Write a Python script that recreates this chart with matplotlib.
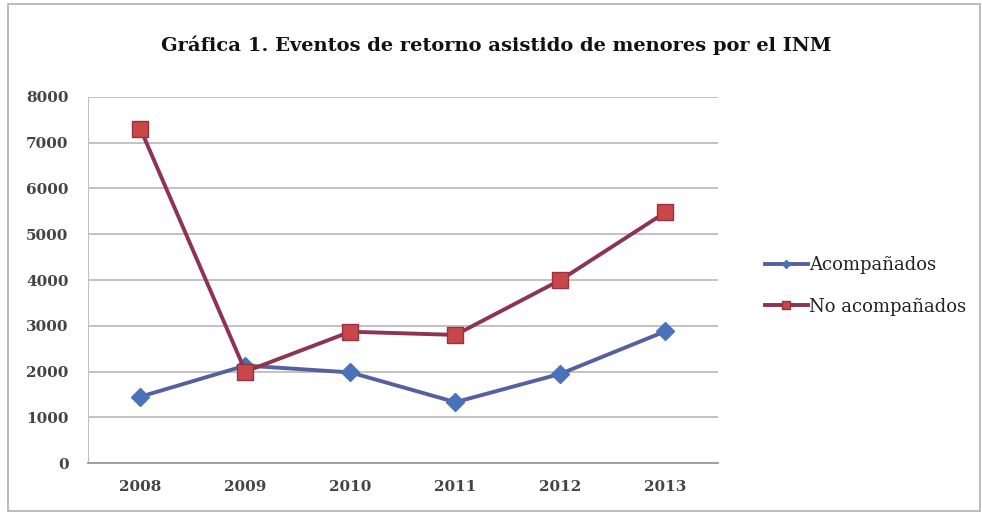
import matplotlib
matplotlib.use("Agg")
import matplotlib.pyplot as plt
from matplotlib.patches import Rectangle

years = ["2008", "2009", "2010", "2011", "2012", "2013"]
acompanados = [1450, 2130, 1980, 1330, 1950, 2880]
no_acompanados = [7300, 2000, 2870, 2800, 4000, 5480]
yticks = [0, 1000, 2000, 3000, 4000, 5000, 6000, 7000, 8000]

plt.rcParams['font.family'] = ['DejaVu Serif']

fig = plt.figure(figsize=(9.82, 5.17), dpi=100)
fig.patches.append(Rectangle((0.008, 0.012), 0.99, 0.98, transform=fig.transFigure,
                             fill=False, edgecolor="#b0b0b0", linewidth=1.2))
ax = fig.add_axes([0.0896, 0.1044, 0.6415, 0.708])

x = list(range(len(years)))
ax.plot(x, acompanados, color="#55609f", linewidth=2.8, marker="D", markersize=9,
        markerfacecolor="#4a72b8", markeredgecolor="#4a72b8", label="Acompañados", zorder=3)
ax.plot(x, no_acompanados, color="#8c3450", linewidth=2.8, marker="s", markersize=12,
        markerfacecolor="#c8484a", markeredgecolor="#9a3040", label="No acompañados", zorder=4)

ax.set_xlim(-0.5, len(years) - 0.5)
ax.set_ylim(0, 8000)
ax.set_xticks(x)
ax.set_xticklabels(years)
ax.set_yticks(yticks)
ax.set_yticklabels([str(v) for v in yticks])
ax.grid(axis="y", color="#b8b8b8", linewidth=1.2)
ax.set_axisbelow(True)
for s in ["top", "right"]:
    ax.spines[s].set_visible(False)
ax.spines["left"].set_color("#c0c0c0")
ax.spines["bottom"].set_color("#999999")
ax.spines["bottom"].set_linewidth(1.3)
ax.tick_params(axis="both", length=0, labelsize=11, colors="#333333", pad=12)
ax.tick_params(axis="y", pad=14)
for lab in ax.get_xticklabels() + ax.get_yticklabels():
    lab.set_fontweight("bold")
    lab.set_color("#444444")

fig.text(0.505, 0.912, "Gráfica 1. Eventos de retorno asistido de menores por el INM",
         ha="center", va="center", fontsize=14, fontweight="bold", color="#111111")

leg = fig.legend(loc="center left", bbox_to_anchor=(0.762, 0.447), frameon=False,
                 fontsize=13, handlelength=2.4, handletextpad=0.05, labelspacing=1.3,
                 markerscale=0.5)
for t in leg.get_texts():
    t.set_color("#222222")

fig.savefig("out.png", dpi=100)
